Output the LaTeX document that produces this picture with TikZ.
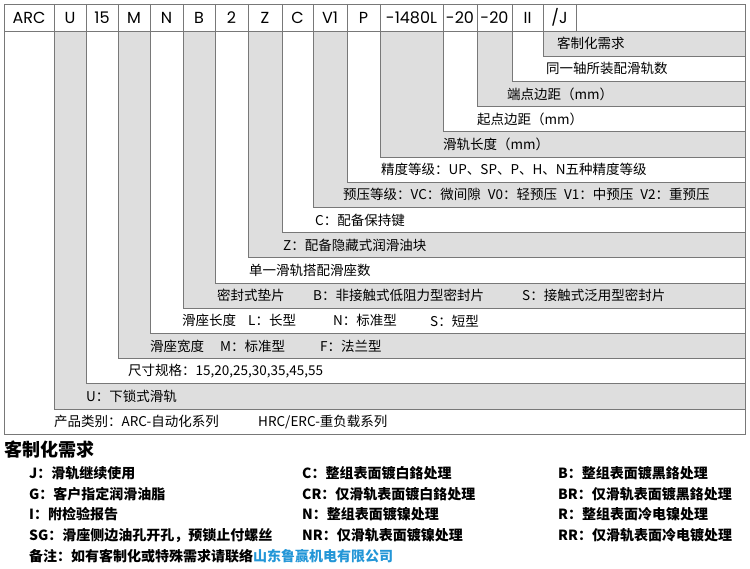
\documentclass[tikz,border=0pt]{standalone}
\usepackage{fontspec}
\setmainfont{Noto Sans CJK SC}
\newfontfamily\codefont{Poppins}
\usetikzlibrary{positioning}
\definecolor{cellgrey}{RGB}{222,222,222}
\definecolor{rulegrey}{RGB}{120,120,120}
\definecolor{linkblue}{RGB}{35,150,215}

\begin{document}
\begin{tikzpicture}[
  x=1pt, y=-1pt,
  level/.style={draw=rulegrey, line width=0.8pt},
  codecell/.style={font=\codefont\fontsize{16}{18}\selectfont, inner sep=0pt},
  desc/.style={anchor=west, inner sep=0pt, font=\fontsize{13.5}{15}\selectfont},
  note/.style={anchor=west, inner sep=0pt, font=\bfseries\fontsize{14}{16}\selectfont}
]
  \useasboundingbox (0,0) rectangle (750,569);

  % Nested levels, outermost first
  \foreach \k/\xl/\shade in {16/4/white, 15/54/cellgrey, 14/86/white, 13/118/cellgrey,
      12/150/white, 11/183/cellgrey, 10/215/white, 9/248/cellgrey, 8/282/white,
      7/313/cellgrey, 6/347/white, 5/380/cellgrey, 4/443/white, 3/477/cellgrey,
      2/512/white, 1/543/cellgrey}
    \draw[level, fill=\shade] (\xl,31) rectangle (745,{31+25.2*\k});

  % Header row
  \draw[level] (4,4) rectangle (745,31);
  \foreach \xl in {54,86,118,150,183,215,248,282,313,347,380,443,477,512,543,576}
    \draw[level] (\xl,4) -- (\xl,31);

  \node[codecell] (hARC) at (29,17.5) {ARC};
  \node[codecell] (hU) at (70,17.5) {U};
  \node[codecell] (hsize) at (102,17.5) {15};
  \node[codecell] (hM) at (134,17.5) {M};
  \node[codecell] (hN) at (166.5,17.5) {N};
  \node[codecell] (hB) at (199,17.5) {B};
  \node[codecell] (hblocks) at (231.5,17.5) {2};
  \node[codecell] (hZ) at (265,17.5) {Z};
  \node[codecell] (hC) at (297.5,17.5) {C};
  \node[codecell] (hV) at (330,17.5) {V1};
  \node[codecell] (hP) at (363.5,17.5) {P};
  \node[codecell] (hlen) at (411.5,17.5) {-1480L};
  \node[codecell] (hstart) at (460,17.5) {-20};
  \node[codecell] (hend) at (494.5,17.5) {-20};
  \node[codecell] (hrails) at (527.5,17.5) {II};
  \node[codecell] (hJ) at (559.5,17.5) {/J};

  % Level labels
  \node[desc] (lJ) at (557,43.6) {客制化需求};
  \node[desc] (lrails) at (546,68.8) {同一轴所装配滑轨数};
  \node[desc] (lend) at (507,94) {端点边距（mm）};
  \node[desc] (lstart) at (477,119.2) {起点边距（mm）};
  \node[desc] (llen) at (443,144.4) {滑轨长度（mm）};
  \node[desc] (lP) at (381,169.6) {精度等级：UP、SP、P、H、N五种精度等级};
  \node[desc] (lV) at (343,194.8) {预压等级：VC：微间隙\hspace{7pt}V0：轻预压\hspace{7pt}V1：中预压\hspace{7pt}V2：重预压};
  \node[desc] (lC) at (315,220) {C：配备保持键};
  \node[desc] (lZ) at (283,245.2) {Z：配备隐藏式润滑油块};
  \node[desc] (lblocks) at (249,270.4) {单一滑轨搭配滑座数};
  \node[desc] (lseal) at (217,295.6) {密封式垫片};
  \node[desc] (lsealB) at (313,295.6) {B：非接触式低阻力型密封片};
  \node[desc] (lsealS) at (522,295.6) {S：接触式泛用型密封片};
  \node[desc] (lN) at (182,320.8) {滑座长度};
  \node[desc] (lNL) at (248,320.8) {L：长型};
  \node[desc] (lNN) at (333,320.8) {N：标准型};
  \node[desc] (lNS) at (430,320.8) {S：短型};
  \node[desc] (lM) at (150,346) {滑座宽度};
  \node[desc] (lMM) at (220,346) {M：标准型};
  \node[desc] (lMF) at (320,346) {F：法兰型};
  \node[desc] (lsize) at (128,371.2) {尺寸规格：15,20,25,30,35,45,55};
  \node[desc] (lU) at (86,396.4) {U：下锁式滑轨};
  \node[desc] (lARC) at (54,421.6) {产品类别：ARC-自动化系列};
  \node[desc] (lHRC) at (258,421.6) {HRC/ERC-重负载系列};

  % Custom requirements
  \node[anchor=west, inner sep=0pt, font=\bfseries\fontsize{18}{20}\selectfont] (title) at (4,450) {客制化需求};
  \node[note] (nJ) at (29,473) {J：滑轨继续使用};
  \node[note] (nG) at (29,494) {G：客户指定润滑油脂};
  \node[note] (nI) at (29,514) {I：附检验报告};
  \node[note] (nSG) at (29,535) {SG：滑座侧边油孔开孔，预锁止付螺丝};
  \node[note] (nremark) at (29,556) {备注：如有客制化或特殊需求请联络\textcolor{linkblue}{山东鲁赢机电有限公司}};
  \node[note] (nC) at (302,473) {C：整组表面镀白鉻处理};
  \node[note] (nCR) at (302,494) {CR：仅滑轨表面镀白鉻处理};
  \node[note] (nN) at (302,514) {N：整组表面镀镍处理};
  \node[note] (nNR) at (302,535) {NR：仅滑轨表面镀镍处理};
  \node[note] (nB) at (558,473) {B：整组表面镀黑鉻处理};
  \node[note] (nBR) at (558,494) {BR：仅滑轨表面镀黑鉻处理};
  \node[note] (nR) at (558,514) {R：整组表面冷电镍处理};
  \node[note] (nRR) at (558,535) {RR：仅滑轨表面冷电镀处理};
\end{tikzpicture}
\end{document}
